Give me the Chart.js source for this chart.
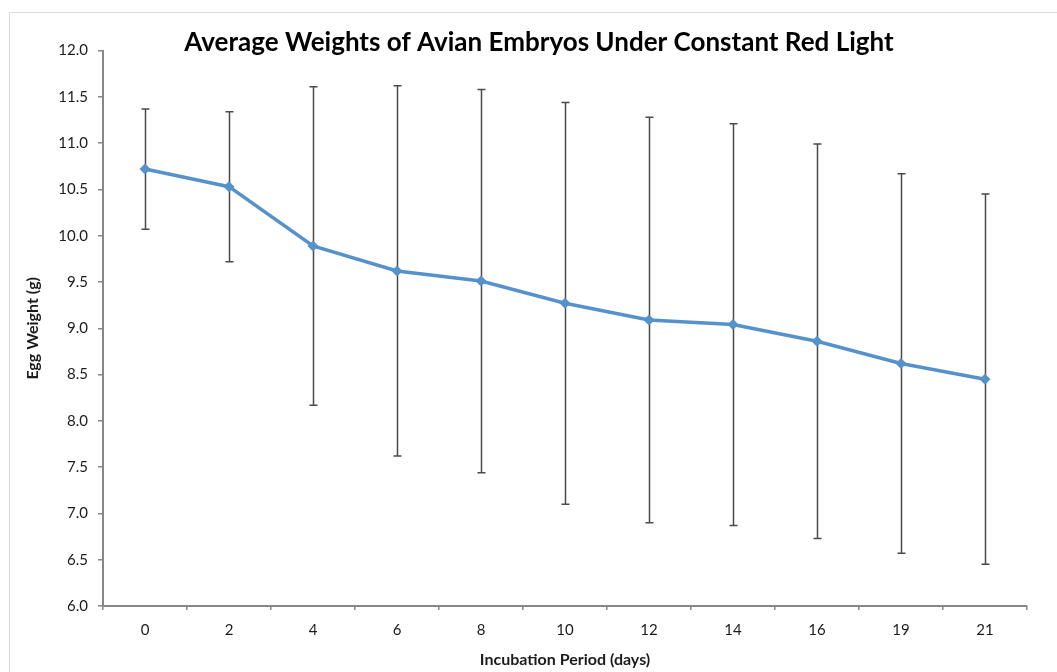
<!DOCTYPE html>
<html>
<head>
<meta charset="utf-8">
<script src="https://cdn.jsdelivr.net/npm/chart.js@4.4.1/dist/chart.umd.min.js"></script>
<style>
  html, body { margin: 0; padding: 0; background: #ffffff; }
  #wrap { width: 1057px; height: 672px; }
</style>
</head>
<body>
<div id="wrap"><canvas id="c" width="1057" height="672"></canvas></div>
<script>
// Incubation day of each weighing
const days = ['0', '2', '4', '6', '8', '10', '12', '14', '16', '19', '21'];
// Mean egg weight (g) on each day
const meanWeight = [10.72, 10.53, 9.89, 9.62, 9.51, 9.27, 9.09, 9.04, 8.86, 8.62, 8.45];
// Symmetric error (g) around each mean
const weightError = [0.65, 0.81, 1.72, 2.00, 2.07, 2.17, 2.19, 2.17, 2.13, 2.05, 2.00];
// Value axis range and step
const yMin = 6.0;
const yMax = 12.0;
const yStep = 0.5;

const titleText = 'Average Weights of Avian Embryos Under Constant Red Light';
const xTitle = 'Incubation Period (days)';
const yTitle = 'Egg Weight (g)';

const axisGray = '#878787';
const textColor = '#1c1c1c';
const lineBlue = '#5592cb';
const baseFont = 'Lato, "Open Sans", "DejaVu Sans", sans-serif';

// Light outer frame around the whole chart
const framePlugin = {
  id: 'frame',
  beforeDraw(chart) {
    const ctx = chart.ctx;
    ctx.save();
    ctx.fillStyle = '#ffffff';
    ctx.fillRect(0, 0, chart.width, chart.height);
    ctx.strokeStyle = '#d9d9d9';
    ctx.lineWidth = 1;
    ctx.beginPath();
    ctx.moveTo(9.5, chart.height + 2);
    ctx.lineTo(9.5, 12.5);
    ctx.lineTo(chart.width + 2, 12.5);
    ctx.stroke();
    ctx.restore();
  }
};

// Vertical error bars with caps, drawn beneath the line and markers
const errorBarPlugin = {
  id: 'errorBars',
  beforeDatasetsDraw(chart) {
    const ctx = chart.ctx;
    const xs = chart.scales.x;
    const ys = chart.scales.y;
    ctx.save();
    ctx.strokeStyle = '#4a4a4a';
    ctx.lineWidth = 1.5;
    const cap = 4;
    meanWeight.forEach((m, i) => {
      const x = Math.round(xs.getPixelForValue(i)) + 0.5;
      const yTop = ys.getPixelForValue(m + weightError[i]);
      const yBot = ys.getPixelForValue(m - weightError[i]);
      ctx.beginPath();
      ctx.moveTo(x, yTop);
      ctx.lineTo(x, yBot);
      ctx.moveTo(x - cap, yTop);
      ctx.lineTo(x + cap, yTop);
      ctx.moveTo(x - cap, yBot);
      ctx.lineTo(x + cap, yBot);
      ctx.stroke();
    });
    ctx.restore();
  }
};

// Center the title over the framed region rather than the padded layout box
const titleShiftPlugin = {
  id: 'titleShift',
  afterLayout(chart) {
    if (chart.titleBlock) {
      chart.titleBlock.left = 21;
      chart.titleBlock.right = 1057;
    }
  }
};

new Chart(document.getElementById('c'), {
  type: 'line',
  data: {
    labels: days,
    datasets: [{
      data: meanWeight,
      borderColor: lineBlue,
      backgroundColor: lineBlue,
      borderWidth: 3.5,
      tension: 0,
      pointStyle: 'rectRot',
      pointRadius: 5.5,
      pointBorderWidth: 0,
      pointBackgroundColor: lineBlue,
      fill: false
    }]
  },
  options: {
    responsive: false,
    animation: false,
    devicePixelRatio: 1,
    layout: { padding: { left: 9, right: 30, top: 0, bottom: 0 } },
    plugins: {
      legend: { display: false },
      tooltip: { enabled: false },
      title: {
        display: true,
        text: titleText,
        color: '#000000',
        font: { family: baseFont, size: 26, weight: 'bold', lineHeight: 0.6 },
        padding: { top: 35, bottom: 0 }
      }
    },
    scales: {
      x: {
        type: 'category',
        offset: true,
        grid: {
          offset: true,
          drawOnChartArea: false,
          drawTicks: true,
          tickLength: 4,
          color: axisGray,
          lineWidth: 1.5
        },
        border: { display: true, color: axisGray, width: 2 },
        ticks: {
          color: textColor,
          padding: 11,
          maxRotation: 0,
          font: { family: baseFont, size: 15 }
        },
        title: {
          display: true,
          text: xTitle,
          color: textColor,
          font: { family: baseFont, size: 16, weight: 'bold' },
          padding: { top: 0, bottom: 3 }
        },
        afterFit(scale) { scale.height = 66; }
      },
      y: {
        min: yMin,
        max: yMax,
        grid: {
          drawOnChartArea: false,
          drawTicks: true,
          tickLength: 5,
          color: axisGray,
          lineWidth: 1.5
        },
        border: { display: true, color: axisGray, width: 2 },
        ticks: {
          stepSize: yStep,
          color: textColor,
          padding: 10,
          font: { family: baseFont, size: 15 },
          callback: (v) => Number(v).toFixed(1)
        },
        title: {
          display: true,
          text: yTitle,
          color: textColor,
          font: { family: baseFont, size: 16, weight: 'bold' },
          padding: { top: 14, bottom: 0 }
        },
        afterFit(scale) { scale.width = 94; }
      }
    }
  },
  plugins: [framePlugin, errorBarPlugin, titleShiftPlugin]
});
</script>
</body>
</html>
